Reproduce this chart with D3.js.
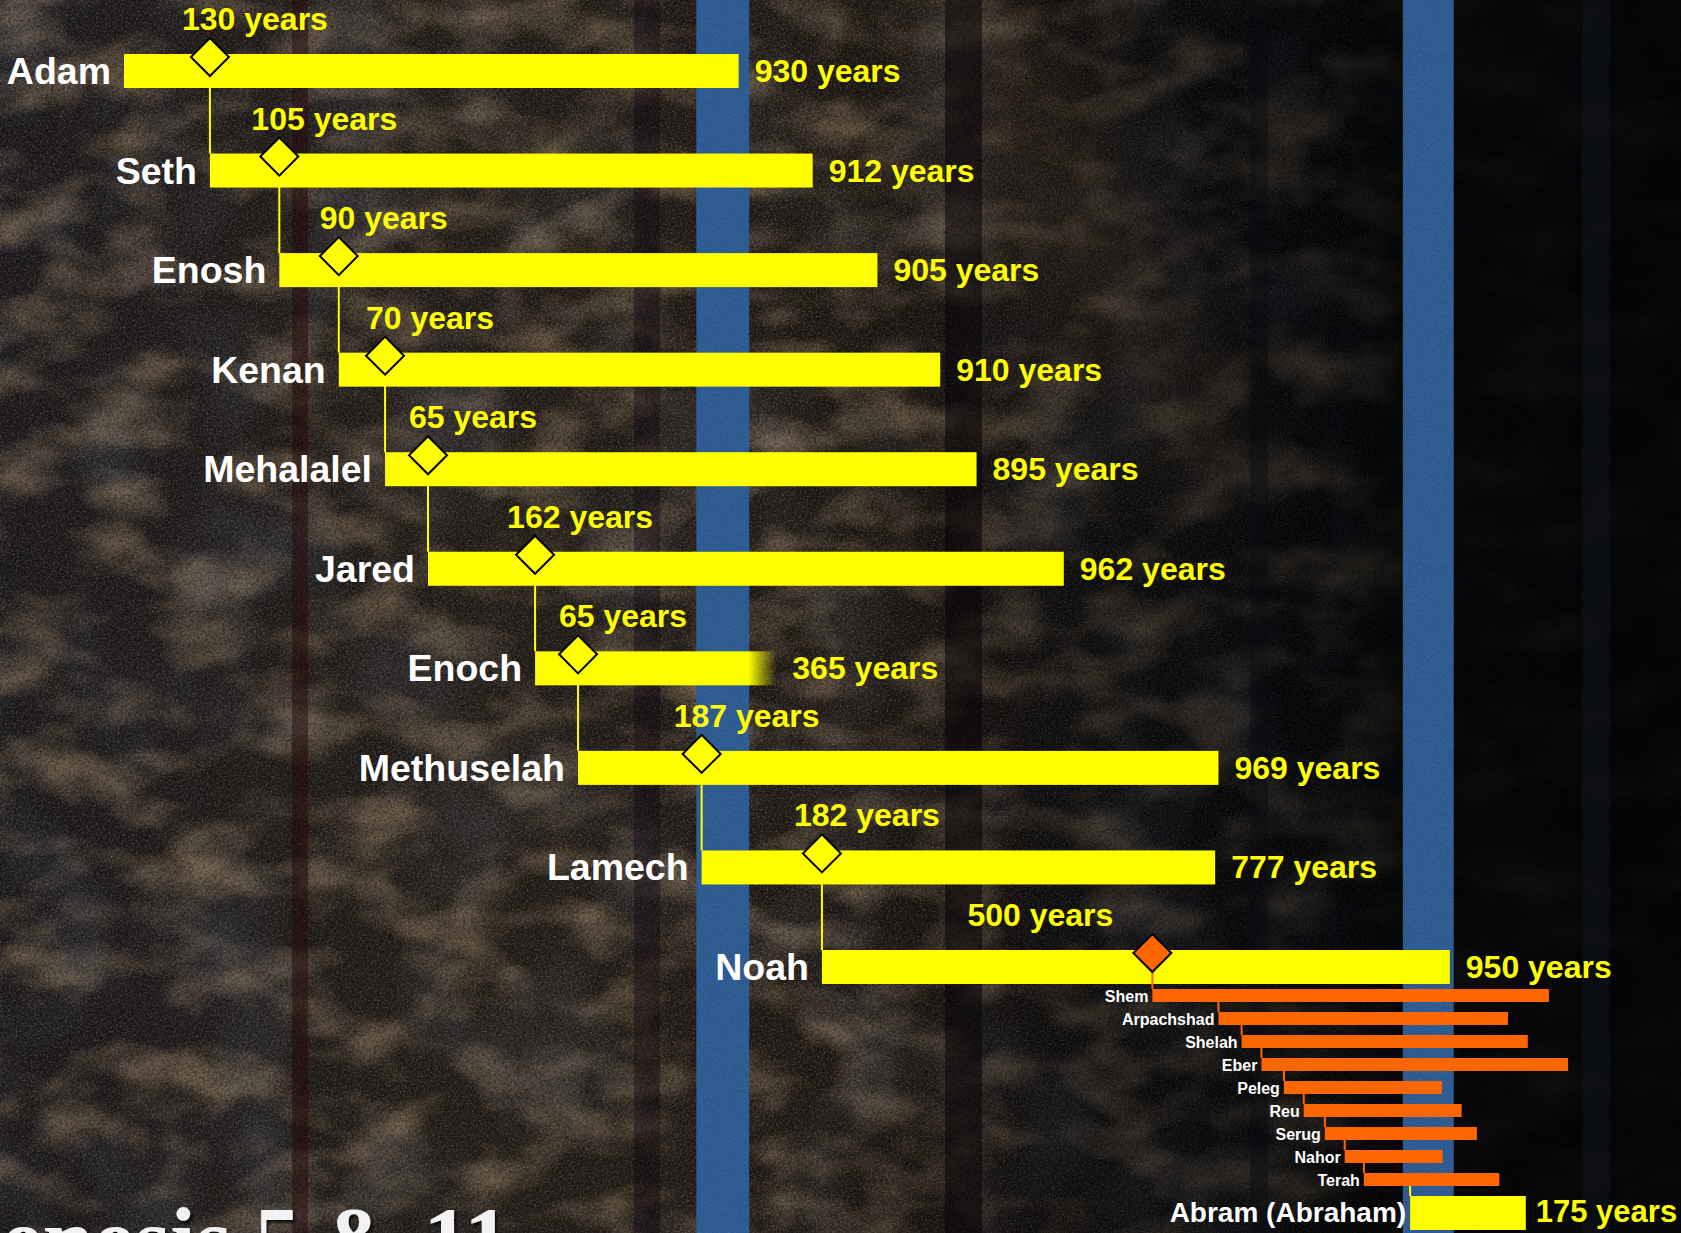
<!DOCTYPE html>
<html>
<head>
<meta charset="utf-8">
<script src="https://cdn.jsdelivr.net/npm/d3@7"></script>
<style>
  html, body { margin: 0; padding: 0; background: #000; overflow: hidden; }
  svg { display: block; }
</style>
</head>
<body>
<svg id="chart" width="1681" height="1233"></svg>
<script>
const patriarchs = ["Adam", "Seth", "Enosh", "Kenan", "Mehalalel", "Jared", "Enoch", "Methuselah", "Lamech", "Noah"];
const begatAge   = [130, 105, 90, 70, 65, 162, 65, 187, 182, 500];   // age when the next one was born
const lifespan   = [930, 912, 905, 910, 895, 962, 365, 969, 777, 950];

const postFlood         = ["Shem", "Arpachshad", "Shelah", "Eber", "Peleg", "Reu", "Serug", "Nahor", "Terah", "Abram (Abraham)"];
const postBegatAge      = [100, 35, 30, 34, 30, 32, 30, 29, 70];
const postLifespan      = [600, 438, 433, 464, 239, 239, 230, 148, 205, 175];

const overlapBands = [[866, 946], [1935, 2012]];   // highlighted year spans (blue columns)
const yearsSuffix  = " years";
const titleText    = "Genesis 5 & 11";

// ---------------- SETUP ----------------
const W = 1681, H = 1233;
const svg = d3.select("#chart");
const defs = svg.append("defs");

const YELLOW = "#ffff00", ORANGE = "#ff6600", BLUE = "#2d5a90";
const SANS = "'Liberation Sans', Arial, Helvetica, sans-serif";

// birth years (Anno Mundi), accumulated from the ages above
const births = [0];
for (let i = 1; i < patriarchs.length; i++) births.push(births[i - 1] + begatAge[i - 1]);
const postBirths = [births[births.length - 1] + begatAge[begatAge.length - 1]];
for (let j = 1; j < postFlood.length; j++) postBirths.push(postBirths[j - 1] + postBegatAge[j - 1]);

const x = d3.scaleLinear().domain([0, 2200]).range([124, 1578]);
const yMain = d3.scalePoint().domain(patriarchs).range([54, 950]);
const ySub  = d3.scalePoint().domain(postFlood).range([989, 1196]);

// ---------------- BACKGROUND ----------------
const bgGrad = defs.append("linearGradient").attr("id", "bgGrad").attr("x1", 0).attr("x2", 1).attr("y1", 0).attr("y2", 0);
[[0, "#1c1a1d"], [0.3, "#231e1a"], [0.55, "#1d1814"], [0.7, "#111114"], [0.85, "#06080c"], [1, "#030405"]]
  .forEach(([o, c]) => bgGrad.append("stop").attr("offset", o).attr("stop-color", c));

function noiseFilter(id, freq, oct, seed, matrix) {
  const f = defs.append("filter").attr("id", id).attr("x", 0).attr("y", 0).attr("width", "100%").attr("height", "100%");
  f.append("feTurbulence").attr("type", "fractalNoise").attr("baseFrequency", freq).attr("numOctaves", oct).attr("seed", seed);
  f.append("feColorMatrix").attr("type", "matrix").attr("values", matrix);
}
noiseFilter("blotch", "0.012 0.02", 3, 11, "0 0 0 0 0.44  0 0 0 0 0.31  0 0 0 0 0.17  2.0 0 0 0 -0.85");
noiseFilter("blueBlotch", "0.01 0.008", 3, 4, "0 0 0 0 0.18  0 0 0 0 0.22  0 0 0 0 0.31  1.8 0 0 0 -0.8");
noiseFilter("grain", "0.55", 2, 3, "0 0 0 0 0.60  0 0 0 0 0.45  0 0 0 0 0.32  1.6 0 0 0 -0.74");
noiseFilter("darkGrain", "0.35", 2, 9, "0 0 0 0 0  0 0 0 0 0  0 0 0 0 0  1.8 0 0 0 -0.8");
noiseFilter("bandGrain", "0.5", 2, 5, "0 0 0 0 0.55  0 0 0 0 0.65  0 0 0 0 0.8  1.5 0 0 0 -0.75");

const darkGrad = defs.append("linearGradient").attr("id", "darkGrad").attr("x1", 0).attr("x2", 1).attr("y1", 0).attr("y2", 0);
[[0, 0], [0.5, 0], [0.62, 0.3], [0.8, 0.6], [0.84, 0.85], [1, 0.9]]
  .forEach(([o, a]) => darkGrad.append("stop").attr("offset", o).attr("stop-color", "#020305").attr("stop-opacity", a));

const blur = defs.append("filter").attr("id", "softBlur").attr("x", "-50%").attr("y", "-50%").attr("width", "200%").attr("height", "200%");
blur.append("feGaussianBlur").attr("stdDeviation", 40);

const bg = svg.append("g").attr("class", "background");
bg.append("rect").attr("width", W).attr("height", H).attr("fill", "url(#bgGrad)");
// faint lighter diagonal streak of the painting
bg.append("ellipse").attr("cx", 1080).attr("cy", 220).attr("rx", 70).attr("ry", 330)
  .attr("transform", "rotate(-28 1080 220)").attr("fill", "#5e4a36").attr("opacity", 0.4).attr("filter", "url(#softBlur)");
bg.append("rect").attr("width", W).attr("height", H).attr("filter", "url(#blotch)").attr("opacity", 0.6);
bg.append("rect").attr("width", W).attr("height", H).attr("filter", "url(#blueBlotch)").attr("opacity", 0.25);
bg.append("rect").attr("width", W).attr("height", H).attr("filter", "url(#grain)").attr("opacity", 0.45);
bg.append("rect").attr("width", W).attr("height", H).attr("filter", "url(#darkGrain)").attr("opacity", 0.5);
bg.append("rect").attr("width", W).attr("height", H).attr("fill", "url(#darkGrad)");

// dark vertical streaks of the painting
const streaks = [[292, 16, "#24080c", 0.5], [634, 26, "#120812", 0.4], [945, 37, "#080408", 0.55],
                 [1250, 18, "#0a0a12", 0.45], [1582, 28, "#1a2230", 0.3]];
bg.selectAll("rect.streak").data(streaks).enter().append("rect").attr("class", "streak")
  .attr("x", d => d[0]).attr("width", d => d[1]).attr("y", 0).attr("height", H)
  .attr("fill", d => d[2]).attr("opacity", d => d[3]);

// blue overlap columns
const bandG = bg.append("g");
bandG.selectAll("rect.band").data(overlapBands).enter().append("rect").attr("class", "band")
  .attr("x", d => x(d[0])).attr("width", d => x(d[1]) - x(d[0]))
  .attr("y", 0).attr("height", H).attr("fill", BLUE);
const bandClip = defs.append("clipPath").attr("id", "bandClip");
bandClip.selectAll("rect").data(overlapBands).enter().append("rect")
  .attr("x", d => x(d[0])).attr("width", d => x(d[1]) - x(d[0])).attr("y", 0).attr("height", H);
bandG.append("rect").attr("width", W).attr("height", H).attr("filter", "url(#bandGrain)")
  .attr("clip-path", "url(#bandClip)").attr("opacity", 0.25);

// partially visible title at the bottom
const fShadow = defs.append("filter").attr("id", "titleShadow").attr("x", "-5%").attr("y", "-20%").attr("width", "110%").attr("height", "140%");
fShadow.append("feDropShadow").attr("dx", 2).attr("dy", 3).attr("stdDeviation", 1.5).attr("flood-color", "#000").attr("flood-opacity", 0.8);
svg.append("text").attr("x", -70).attr("y", 1270)
  .attr("font-family", "'Liberation Serif', 'Times New Roman', serif").attr("font-weight", "bold")
  .attr("font-size", 92).attr("fill", "#f2f2f2").attr("filter", "url(#titleShadow)")
  .text(titleText);

// ---------------- CHART ----------------
const BAR_H = 34, SUB_H = 13;
const chart = svg.append("g").attr("class", "chart");

// Enoch fade
const enochIdx = patriarchs.indexOf("Enoch");
const ex0 = x(births[enochIdx]), ex1 = x(births[enochIdx] + lifespan[enochIdx]);
const fade = defs.append("linearGradient").attr("id", "enochFade").attr("gradientUnits", "userSpaceOnUse")
  .attr("x1", ex0).attr("x2", ex1).attr("y1", 0).attr("y2", 0);
fade.append("stop").attr("offset", (ex1 - ex0 - 28) / (ex1 - ex0)).attr("stop-color", YELLOW).attr("stop-opacity", 1);
fade.append("stop").attr("offset", 1).attr("stop-color", YELLOW).attr("stop-opacity", 0);

const mainData = patriarchs.map((name, i) => ({
  name, i, birth: births[i], life: lifespan[i], begat: begatAge[i], top: yMain(name)
}));
const subData = postFlood.map((name, j) => ({
  name, j, birth: postBirths[j], life: postLifespan[j], top: ySub(name), abram: j === postFlood.length - 1
}));

// main bars
chart.selectAll("rect.main").data(mainData).enter().append("rect").attr("class", "main")
  .attr("x", d => x(d.birth)).attr("width", d => x(d.birth + d.life) - x(d.birth))
  .attr("y", d => d.top).attr("height", BAR_H)
  .attr("fill", d => d.name === "Enoch" ? "url(#enochFade)" : YELLOW);

// post-flood bars
chart.selectAll("rect.sub").data(subData).enter().append("rect").attr("class", "sub")
  .attr("x", d => x(d.birth)).attr("width", d => x(d.birth + d.life) - x(d.birth))
  .attr("y", d => d.top).attr("height", d => d.abram ? BAR_H : SUB_H)
  .attr("fill", d => d.abram ? YELLOW : ORANGE);

// connectors: parent's diamond down to child's bar
const DIA_DY = 3, DIA_H = 19;
const conn = chart.append("g").attr("class", "connectors");
mainData.forEach((d, i) => {
  const childX = x(d.birth + d.begat);
  const y1 = d.top + DIA_DY + DIA_H;
  const last = i === mainData.length - 1;
  const y2 = last ? subData[0].top : mainData[i + 1].top;
  conn.append("line").attr("x1", childX).attr("x2", childX).attr("y1", y1).attr("y2", y2)
    .attr("stroke", last ? ORANGE : YELLOW).attr("stroke-width", 2);
});
subData.forEach((d, j) => {
  if (j === 0) return;
  const prev = subData[j - 1];
  conn.append("line").attr("x1", x(d.birth)).attr("x2", x(d.birth))
    .attr("y1", prev.top + SUB_H).attr("y2", d.top)
    .attr("stroke", d.abram ? YELLOW : ORANGE).attr("stroke-width", 2);
});

// diamonds
const diamond = d3.symbol().type(d3.symbolSquare).size(2 * DIA_H * DIA_H);
chart.selectAll("path.diamond").data(mainData).enter().append("path").attr("class", "diamond")
  .attr("d", diamond)
  .attr("transform", d => `translate(${x(d.birth + d.begat)},${d.top + DIA_DY}) rotate(45)`)
  .attr("fill", d => d.i === mainData.length - 1 ? ORANGE : YELLOW)
  .attr("stroke", "#000").attr("stroke-width", 2);

// name labels
chart.selectAll("text.name").data(mainData).enter().append("text").attr("class", "name")
  .attr("x", d => x(d.birth) - 13).attr("y", d => d.top + 30)
  .attr("text-anchor", "end").attr("font-family", SANS).attr("font-weight", "bold")
  .attr("font-size", 37.5).attr("fill", "#ffffff").text(d => d.name);

// lifespan labels
chart.selectAll("text.life").data(mainData).enter().append("text").attr("class", "life")
  .attr("x", d => x(d.birth + d.life) + 16).attr("y", d => d.top + 28)
  .attr("font-family", SANS).attr("font-weight", "bold")
  .attr("font-size", 32).attr("fill", YELLOW).text(d => d.life + yearsSuffix);

// begat labels
chart.selectAll("text.begat").data(mainData).enter().append("text").attr("class", "begat")
  .attr("x", d => d.i === mainData.length - 1 ? x(d.birth + d.begat) - 39 : x(d.birth + d.begat) + 45)
  .attr("y", d => d.top - 24)
  .attr("text-anchor", d => d.i === mainData.length - 1 ? "end" : "middle")
  .attr("font-family", SANS).attr("font-weight", "bold")
  .attr("font-size", 32).attr("fill", YELLOW).text(d => d.begat + yearsSuffix);

// post-flood names
chart.selectAll("text.subname").data(subData).enter().append("text").attr("class", "subname")
  .attr("x", d => x(d.birth) - 4).attr("y", d => d.top + (d.abram ? 26 : 13))
  .attr("text-anchor", "end").attr("font-family", SANS).attr("font-weight", "bold")
  .attr("font-size", d => d.abram ? 28 : 16).attr("fill", "#ffffff").text(d => d.name);

// Abram's lifespan
chart.selectAll("text.sublife").data(subData.filter(d => d.abram)).enter().append("text").attr("class", "sublife")
  .attr("x", d => x(d.birth + d.life) + 10).attr("y", d => d.top + 26)
  .attr("font-family", SANS).attr("font-weight", "bold")
  .attr("font-size", 31).attr("fill", YELLOW).text(d => d.life + yearsSuffix);
</script>
</body>
</html>
